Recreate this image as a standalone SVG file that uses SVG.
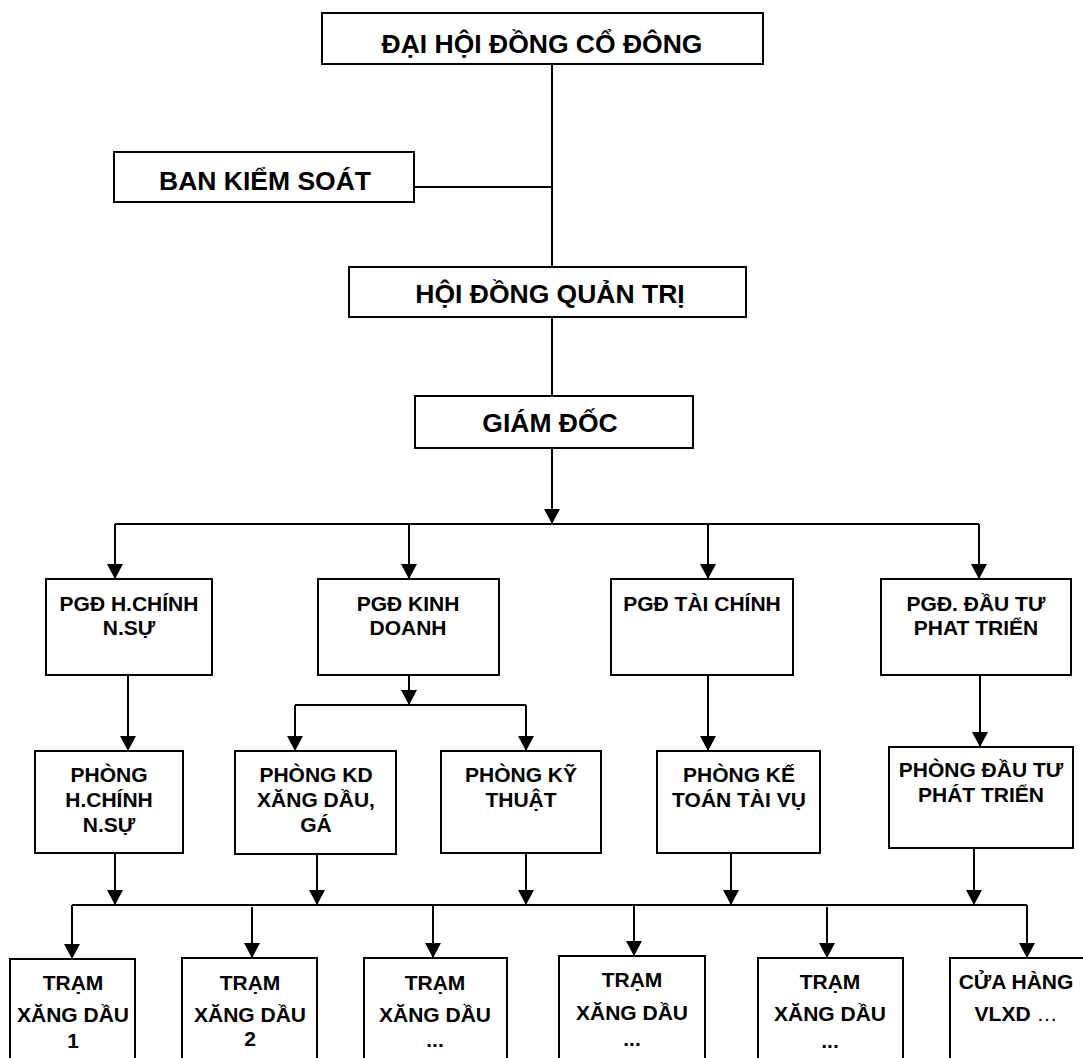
<svg xmlns="http://www.w3.org/2000/svg" width="1083" height="1058" viewBox="0 0 1083 1058">
<style>
.box{fill:#fff;stroke:#000;stroke-width:2}
.big{font-family:"Liberation Sans",Arial,sans-serif;font-weight:bold;font-size:26.5px;text-anchor:middle;fill:#000}
.sm{font-family:"Liberation Sans",Arial,sans-serif;font-weight:bold;font-size:21px;text-anchor:middle;fill:#000}
.ln{fill:none;stroke:#000;stroke-width:2}
.ar{fill:none;stroke:#000;stroke-width:2;marker-end:url(#arr)}
</style>
<defs>
<marker id="arr" viewBox="0 0 15 16" markerWidth="15" markerHeight="16" markerUnits="userSpaceOnUse" refX="15" refY="8" orient="auto">
<path d="M0,0 L15,8 L0,16 z" fill="#000"/>
</marker>
</defs>
<rect width="1083" height="1058" fill="#fff"/>
<g id="connectors">
<path class="ln" d="M552,64 V267 M414,187 H552 M552,317 V396"/>
<path class="ar" d="M552,448 V524"/>
<path class="ln" d="M115,524 H979"/>
<path class="ar" d="M115,524 V579"/>
<path class="ar" d="M409,524 V579"/>
<path class="ar" d="M708,524 V579"/>
<path class="ar" d="M979,524 V579"/>
<path class="ar" d="M128,675 V751"/>
<path class="ar" d="M409,675 V705"/>
<path class="ln" d="M295,705 H526"/>
<path class="ar" d="M295,705 V751"/>
<path class="ar" d="M526,705 V751"/>
<path class="ar" d="M708,675 V751"/>
<path class="ar" d="M980,675 V747"/>
<path class="ar" d="M115,853 V905"/>
<path class="ar" d="M317,854 V905"/>
<path class="ar" d="M526,853 V905"/>
<path class="ar" d="M731,853 V905"/>
<path class="ar" d="M974,848 V905"/>
<path class="ln" d="M72,905 H1027"/>
<path class="ar" d="M72,905 V959"/>
<path class="ar" d="M252,907 V958"/>
<path class="ar" d="M433,905 V958"/>
<path class="ar" d="M634,905 V956"/>
<path class="ar" d="M827,907 V958"/>
<path class="ar" d="M1027,905 V958"/>
</g>
<g id="dhdcd"><rect class="box" x="322" y="13" width="441" height="51"/><text class="big" x="542" y="53">ĐẠI HỘI ĐỒNG CỔ ĐÔNG</text></g>
<g id="bks"><rect class="box" x="114" y="152" width="300" height="50"/><text class="big" x="265" y="190">BAN KIỂM SOÁT</text></g>
<g id="hdqt"><rect class="box" x="349" y="267" width="397" height="50"/><text class="big" x="550" y="303">HỘI ĐỒNG QUẢN TRỊ</text></g>
<g id="gd"><rect class="box" x="415" y="396" width="278" height="52"/><text class="big" x="550" y="432">GIÁM ĐỐC</text></g>
<g id="pgd-hcns"><rect class="box" x="46" y="579" width="166" height="96"/><text class="sm" x="129" y="611">PGĐ H.CHÍNH</text><text class="sm" x="129" y="635">N.SỰ</text></g>
<g id="pgd-kd"><rect class="box" x="318" y="579" width="181" height="96"/><text class="sm" x="408" y="611">PGĐ KINH</text><text class="sm" x="408" y="635">DOANH</text></g>
<g id="pgd-tc"><rect class="box" x="611" y="579" width="182" height="96"/><text class="sm" x="702" y="611">PGĐ TÀI CHÍNH</text></g>
<g id="pgd-dtpt"><rect class="box" x="881" y="579" width="190" height="96"/><text class="sm" x="976" y="611">PGĐ. ĐẦU TƯ</text><text class="sm" x="976" y="635">PHAT TRIỂN</text></g>
<g id="p-hcns"><rect class="box" x="35" y="751" width="148" height="102"/><text class="sm" x="109" y="782">PHÒNG</text><text class="sm" x="109" y="807">H.CHÍNH</text><text class="sm" x="109" y="832">N.SỰ</text></g>
<g id="p-kd"><rect class="box" x="235" y="751" width="161" height="103"/><text class="sm" x="316" y="782">PHÒNG KD</text><text class="sm" x="316" y="807">XĂNG DẦU,</text><text class="sm" x="316" y="832">GÁ</text></g>
<g id="p-kt"><rect class="box" x="441" y="751" width="160" height="102"/><text class="sm" x="521" y="782">PHÒNG KỸ</text><text class="sm" x="521" y="807">THUẬT</text></g>
<g id="p-ketoan"><rect class="box" x="657" y="751" width="163" height="102"/><text class="sm" x="739" y="782">PHÒNG KẾ</text><text class="sm" x="739" y="807">TOÁN TÀI VỤ</text></g>
<g id="p-dtpt"><rect class="box" x="889" y="747" width="184" height="101"/><text class="sm" x="981" y="777">PHÒNG ĐẦU TƯ</text><text class="sm" x="981" y="802">PHÁT TRIỂN</text></g>
<g id="tram1"><rect class="box" x="10" y="959" width="125" height="120"/><text class="sm" x="73" y="990">TRẠM</text><text class="sm" x="73" y="1022">XĂNG DẦU</text><text class="sm" x="73" y="1048">1</text></g>
<g id="tram2"><rect class="box" x="182" y="958" width="135" height="120"/><text class="sm" x="250" y="990">TRẠM</text><text class="sm" x="250" y="1022">XĂNG DẦU</text><text class="sm" x="250" y="1046">2</text></g>
<g id="tram3"><rect class="box" x="364" y="958" width="143" height="120"/><text class="sm" x="435" y="990">TRẠM</text><text class="sm" x="435" y="1022">XĂNG DẦU</text><text class="sm" x="435" y="1047">...</text></g>
<g id="tram4"><rect class="box" x="559" y="956" width="146" height="120"/><text class="sm" x="632" y="987">TRẠM</text><text class="sm" x="632" y="1020">XĂNG DẦU</text><text class="sm" x="632" y="1046">...</text></g>
<g id="tram5"><rect class="box" x="758" y="958" width="145" height="120"/><text class="sm" x="830" y="989">TRẠM</text><text class="sm" x="830" y="1021">XĂNG DẦU</text><text class="sm" x="830" y="1048">...</text></g>
<g id="cuahang"><rect class="box" x="950" y="958" width="140" height="120"/><text class="sm" x="1016" y="989">CỬA HÀNG</text><text class="sm" x="1016" y="1021">VLXD <tspan font-weight="normal">…</tspan></text></g>
</svg>
